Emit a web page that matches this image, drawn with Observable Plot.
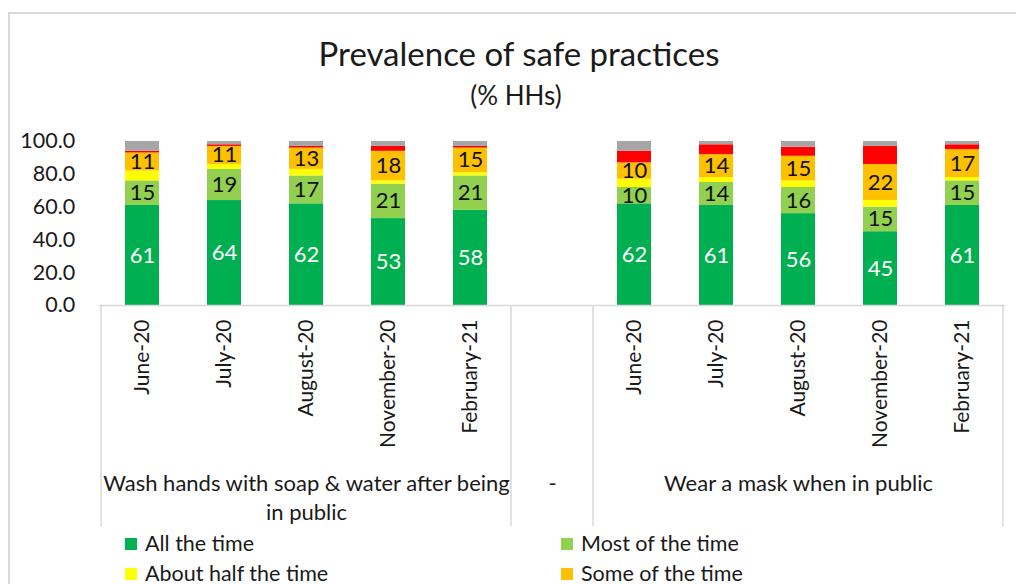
<!DOCTYPE html>
<html>
<head>
<meta charset="utf-8">
<script src="https://cdn.jsdelivr.net/npm/d3@7"></script>
<script src="https://cdn.jsdelivr.net/npm/@observablehq/plot@0.6"></script>
<style>
  html, body { margin: 0; padding: 0; background: #fff; }
  #wrap { position: relative; width: 1016px; height: 584px; overflow: hidden; font-family: Lato, "Noto Sans", sans-serif; color: #1a1a1a; }
  #frame { position: absolute; left: 8px; top: 12px; width: 1100px; height: 700px; border-left: 2px solid #d9d9d9; border-top: 2px solid #d9d9d9; }
  .title { position: absolute; white-space: nowrap; line-height: 1; transform: translateX(-50%); }
  #chart { position: absolute; left: 0; top: 0; }
  .leg { position: absolute; font-size: 21.5px; line-height: 1; white-space: nowrap; display: flex; align-items: center; }
  .leg span.sw { display: inline-block; width: 12px; height: 12px; margin-right: 8px; }
</style>
</head>
<body>
<div id="wrap">
  <div id="frame"></div>
  <div class="title" style="left:519px; top:37px; font-size:33px;">Prevalence of safe practices</div>
  <div class="title" style="left:516px; top:82px; font-size:26px;">(% HHs)</div>
  <div id="chart"></div>
  <div id="legend"></div>
</div>
<script>
// ---- data ----
const months = ["June-20", "July-20", "August-20", "November-20", "February-21"];
const groups = ["Wash hands with soap & water after being\nin public", "-", "Wear a mask when in public"];
const seriesNames = ["All the time", "Most of the time", "About half the time", "Some of the time", "Never", "Don't know"];
const seriesColors = ["#00B050", "#92D050", "#FFFF00", "#FFC000", "#FF0000", "#A6A6A6"];
const labelledSeries = ["All the time", "Most of the time", "Some of the time"];

// values per month, in series order
const washValues = [
  [61, 15, 6, 11, 1, 6],
  [64, 19, 3, 11, 1, 2],
  [62, 17, 4, 13, 1, 3],
  [53, 21, 2, 18, 3, 3],
  [58, 21, 2, 15, 1, 3]
];
const maskValues = [
  [62, 10, 5, 10, 7, 6],
  [61, 14, 3, 14, 6, 2],
  [56, 16, 4, 15, 5.5, 3.5],
  [45, 15, 4, 22, 11, 3],
  [61, 15, 2, 17, 3, 2]
];

// ---- build table ----
const washKeys = months.map(m => "W|" + m);
const maskKeys = months.map(m => "M|" + m);
const xDomain = [...washKeys, "-", ...maskKeys];
const rows = [];
washValues.forEach((vals, i) => vals.forEach((v, j) => rows.push({key: washKeys[i], series: seriesNames[j], value: v})));
maskValues.forEach((vals, i) => vals.forEach((v, j) => rows.push({key: maskKeys[i], series: seriesNames[j], value: v})));
const groupLabels = [
  {key: washKeys[2], label: groups[0]},
  {key: "-", label: groups[1]},
  {key: maskKeys[2], label: groups[2]}
];

const W = 1016, H = 530;
const plot = Plot.plot({
  width: W, height: H,
  marginLeft: 98.8, marginRight: 10.8, marginTop: 141, marginBottom: 225,
  style: {fontFamily: "Lato, 'Noto Sans', sans-serif", color: "#1a1a1a", background: "transparent", overflow: "visible"},
  x: {domain: xDomain, paddingInner: 0.587, paddingOuter: 0.2935, axis: null},
  y: {domain: [0, 100], axis: null},
  color: {domain: seriesNames, range: seriesColors},
  marks: [
    Plot.barY(rows, {x: "key", y: "value", fill: "series", order: seriesNames}),
    Plot.text(rows, Plot.stackY({x: "key", y: "value", z: "series", order: seriesNames,
      text: d => d.series === "All the time" ? String(Math.round(d.value)) : "",
      fill: "white", fontSize: 22})),
    Plot.text(rows, Plot.stackY({x: "key", y: "value", z: "series", order: seriesNames,
      text: d => (labelledSeries.includes(d.series) && d.series !== "All the time") ? String(Math.round(d.value)) : "",
      fill: "#111", fontSize: 22})),
    Plot.axisY({ticks: [0, 20, 40, 60, 80, 100], tickFormat: d3.format(".1f"), tickSize: 0, tickPadding: 24, fontSize: 21.5, label: null}),
    Plot.axisX({tickFormat: d => d === "-" ? "" : d.split("|")[1], tickRotate: -90, tickSize: 0, tickPadding: 14, fontSize: 21, label: null}),
    Plot.ruleY([0], {stroke: "#d9d9d9", strokeWidth: 1.5}),
    Plot.text(groupLabels, {x: "key", text: "label", frameAnchor: "bottom", lineAnchor: "top", dy: 165, fontSize: 22, lineHeight: 1.32, fill: "#1a1a1a"})
  ]
});
document.getElementById("chart").appendChild(plot);

// category group box lines, positioned with the plot's own scales
const sx = plot.scale("x"), sy = plot.scale("y");
const half = (sx.step - sx.bandwidth) / 2;
const bounds = [sx.apply(xDomain[0]) - half,
  sx.apply(washKeys[4]) + sx.bandwidth + half,
  sx.apply("-") + sx.bandwidth + half,
  sx.apply(maskKeys[4]) + sx.bandwidth + half];
const y0 = sy.apply(0);
d3.select(plot).append("g").selectAll("line").data(bounds).join("line")
  .attr("x1", d => d).attr("x2", d => d)
  .attr("y1", y0).attr("y2", y0 + 221)
  .attr("stroke", "#d9d9d9").attr("stroke-width", 1.5);

// legend (two columns)
const legend = document.getElementById("legend");
seriesNames.forEach((s, i) => {
  const el = document.createElement("div");
  el.className = "leg";
  el.style.left = (i % 2 === 0 ? 125 : 561) + "px";
  el.style.top = (533 + Math.floor(i / 2) * 30) + "px";
  el.innerHTML = `<span class="sw" style="background:${seriesColors[i]}"></span>${s}`;
  legend.appendChild(el);
});
</script>
</body>
</html>
